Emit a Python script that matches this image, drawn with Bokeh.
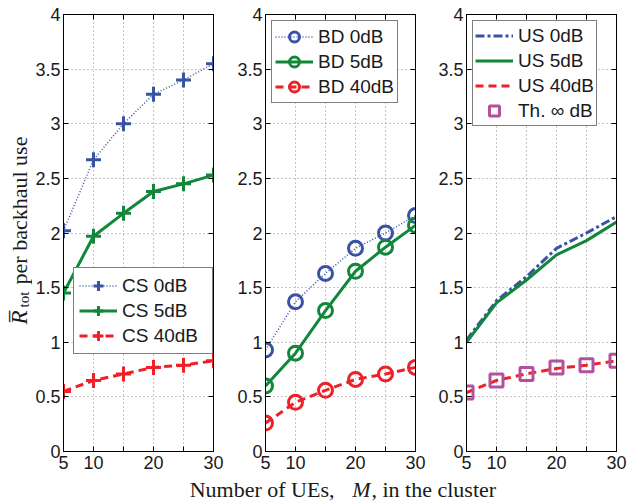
from math import pi
from bokeh.plotting import figure
from bokeh.layouts import row, column
from bokeh.models import (Range1d, FixedTicker, CustomJSTickFormatter, Legend,
                          LegendItem, LinearAxis, Label, CustomLabelingPolicy)
from bokeh.embed import file_html
from bokeh.resources import INLINE

# ---------------- data ----------------
M = [5, 10, 15, 20, 25, 30]
x_tick_labels = ["5", "10", "", "20", "", "30"]
y_ticks = [0, 0.5, 1, 1.5, 2, 2.5, 3, 3.5, 4]

cs_0dB = [2.02, 2.67, 3.00, 3.27, 3.40, 3.55]
cs_5dB = [1.45, 1.97, 2.18, 2.38, 2.45, 2.53]
cs_40dB = [0.55, 0.65, 0.71, 0.77, 0.79, 0.83]

bd_0dB = [0.93, 1.37, 1.63, 1.86, 2.00, 2.16]
bd_5dB = [0.60, 0.90, 1.29, 1.65, 1.87, 2.07]
bd_40dB = [0.26, 0.45, 0.56, 0.66, 0.71, 0.77]

us_0dB = [1.02, 1.38, 1.60, 1.86, 2.00, 2.15]
us_5dB = [1.00, 1.36, 1.57, 1.80, 1.93, 2.10]
us_40dB = [0.54, 0.65, 0.71, 0.76, 0.79, 0.83]
th_inf = [0.54, 0.65, 0.71, 0.77, 0.79, 0.83]

# ---------------- style ----------------
BLUE = "#3953A4"
GREEN = "#12873B"
RED = "#EE2129"
MAG = "#B4519E"
TXT = "#1a1a1a"
SANS = "Liberation Sans"
SERIF = "Liberation Serif"

keep_idx = [i for i, s in enumerate(x_tick_labels) if s]


def blank_fig(fw, fh, top, bottom, left=0, right=0):
    p = figure(frame_width=fw, frame_height=fh, min_border_left=left, min_border_right=right,
               min_border_top=top, min_border_bottom=bottom,
               x_axis_location=None, y_axis_location=None, title_location=None,
               output_backend="svg", toolbar_location=None)
    p.outline_line_color = None
    p.grid.visible = False
    p.border_fill_color = "white"
    p.background_fill_color = "white"
    return p


def make_fig(left, right):
    p = figure(frame_width=150, frame_height=437,
               min_border_left=left, min_border_right=right,
               min_border_top=14, min_border_bottom=25,
               x_range=Range1d(5, 30), y_range=Range1d(0, 4), title_location=None,
               output_backend="svg", toolbar_location=None)
    p.background_fill_color = "white"
    p.border_fill_color = "white"
    p.outline_line_color = "black"
    p.outline_line_width = 1
    for ax in (p.xaxis[0], p.yaxis[0]):
        ax.major_tick_in = 5
        ax.major_tick_out = 0
        ax.minor_tick_line_color = None
        ax.axis_line_color = "black"
        ax.major_tick_line_color = "black"
        ax.major_label_text_font = SANS
        ax.major_label_text_font_size = "18px"
        ax.major_label_text_color = TXT
    p.xaxis[0].major_label_standoff = 4
    p.yaxis[0].major_label_standoff = 3
    p.xaxis.ticker = FixedTicker(ticks=M)
    p.xaxis.formatter = CustomJSTickFormatter(code="return String(tick);")
    p.xaxis[0].major_label_policy = CustomLabelingPolicy(code="return %s;" % str(keep_idx))
    p.yaxis.ticker = FixedTicker(ticks=y_ticks)
    p.yaxis.formatter = CustomJSTickFormatter(code="return String(tick);")
    # box ticks (top / right), no labels
    for loc, tk in (("right", y_ticks), ("above", M)):
        a = LinearAxis(ticker=FixedTicker(ticks=tk), major_tick_in=5, major_tick_out=0,
                       minor_tick_line_color=None, major_label_text_font_size="0px",
                       major_label_standoff=0, axis_line_color="black",
                       major_label_policy=CustomLabelingPolicy(code="return [];"))
        p.add_layout(a, loc)
    p.grid.grid_line_color = "#8c8c8c"
    p.grid.grid_line_dash = "1 3"
    p.grid.grid_line_width = 1
    return p


def style_legend(lg, pad, lw=None):
    lg.border_line_color = "black"
    lg.border_line_width = 1
    lg.background_fill_color = "white"
    lg.background_fill_alpha = 1
    lg.label_text_font = SANS
    lg.label_text_font_size = "19px"
    lg.label_text_color = TXT
    lg.glyph_width = 38
    lg.glyph_height = 25
    lg.label_height = 25
    lg.spacing = 0
    lg.padding = pad
    lg.label_standoff = 5
    if lw:
        lg.label_width = lw


# ---------------- y label strip ----------------
p0 = blank_fig(32, 437, 14, 25)
ylab_common = dict(x_units="screen", y_units="screen", angle=pi / 2,
                   text_font=SERIF, text_color=TXT,
                   text_align="center", text_baseline="middle")
p0.add_layout(Label(x=19, y=134, text="R\u0305", text_font_size="23px",
                    text_font_style="italic", **ylab_common))
p0.add_layout(Label(x=23, y=152, text="tot", text_font_size="15px", **ylab_common))
p0.add_layout(Label(x=19, y=241, text="per backhaul use", text_font_size="22px",
                    **ylab_common))

# ---------------- panel 1: CS ----------------
p1 = make_fig(30, 20)
l = p1.line(M, cs_0dB, line_color=BLUE, line_width=1.5, line_dash="1 2")
s = p1.scatter(M, cs_0dB, marker="cross", size=15, line_color=BLUE, line_width=3)
l2 = p1.line(M, cs_5dB, line_color=GREEN, line_width=3)
s2 = p1.scatter(M, cs_5dB, marker="cross", size=15, line_color=GREEN, line_width=3)
l3 = p1.line(M, cs_40dB, line_color=RED, line_width=3, line_dash="8 5")
s3 = p1.scatter(M, cs_40dB, marker="cross", size=15, line_color=RED, line_width=3)
lg1 = Legend(items=[LegendItem(label="CS 0dB", renderers=[l, s]),
                    LegendItem(label="CS 5dB", renderers=[l2, s2]),
                    LegendItem(label="CS 40dB", renderers=[l3, s3])],
             location=(10, 97), margin=0)
style_legend(lg1, 5, 85)
p1.add_layout(lg1)

# ---------------- panel 2: BD ----------------
p2 = make_fig(32, 19)
l = p2.line(M, bd_0dB, line_color=BLUE, line_width=1.5, line_dash="1 2")
s = p2.scatter(M, bd_0dB, marker="circle", size=14, line_color=BLUE, line_width=3, fill_color=None)
l2 = p2.line(M, bd_5dB, line_color=GREEN, line_width=3)
s2 = p2.scatter(M, bd_5dB, marker="circle", size=14, line_color=GREEN, line_width=3, fill_color=None)
l3 = p2.line(M, bd_40dB, line_color=RED, line_width=3, line_dash="8 5")
s3 = p2.scatter(M, bd_40dB, marker="circle", size=14, line_color=RED, line_width=3, fill_color=None)
lg2 = Legend(items=[LegendItem(label="BD 0dB", renderers=[l, s]),
                    LegendItem(label="BD 5dB", renderers=[l2, s2]),
                    LegendItem(label="BD 40dB", renderers=[l3, s3])],
             location="top_left", margin=6)
style_legend(lg2, 3)
p2.add_layout(lg2)

# ---------------- panel 3: US ----------------
p3 = make_fig(32, 12)
l = p3.line(M, us_0dB, line_color=BLUE, line_width=3, line_dash="9 3 3 3")
l2 = p3.line(M, us_5dB, line_color=GREEN, line_width=3)
l3 = p3.line(M, us_40dB, line_color=RED, line_width=3, line_dash="8 5")
s4 = p3.scatter(M, th_inf, marker="square", size=13, line_color=MAG, line_width=3, fill_color=None)
lg3 = Legend(items=[LegendItem(label="US 0dB", renderers=[l]),
                    LegendItem(label="US 5dB", renderers=[l2]),
                    LegendItem(label="US 40dB", renderers=[l3]),
                    LegendItem(label="Th. \u221e dB", renderers=[s4])],
             location="top_left", margin=6)
style_legend(lg3, 2)
p3.add_layout(lg3)

# ---------------- shared x label ----------------
p4 = blank_fig(553, 25, 0, 0, left=62, right=12)
xlab_common = dict(x_units="screen", y_units="screen", y=12.5, text_font=SERIF,
                   text_font_size="22px", text_color=TXT, text_baseline="middle")
p4.add_layout(Label(x=272, text="Number of UEs,", text_align="right", **xlab_common))
p4.add_layout(Label(x=299, text="M", text_align="center", text_font_style="italic", **xlab_common))
p4.add_layout(Label(x=309, text=", in the cluster", text_align="left", **xlab_common))

layout = column(row(p0, p1, p2, p3, spacing=0), p4, spacing=0)

open("out.html", "w").write(file_html(layout, INLINE))
